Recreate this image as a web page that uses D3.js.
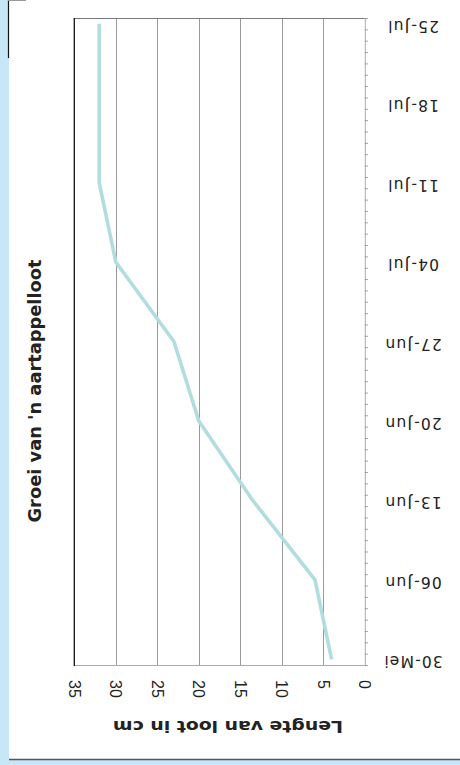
<!DOCTYPE html>
<html><head><meta charset="utf-8">
<script src="https://cdn.jsdelivr.net/npm/d3@7"></script>
<style>html,body{margin:0;padding:0;background:#c7e7f8;}svg{display:block;}</style>
</head><body>
<script>
const dateLabels = ["30-Mei","06-Jun","13-Jun","20-Jun","27-Jun","04-Jul","11-Jul","18-Jul","25-Jul"];
const dayIndex = [0,7,14,21,28,35,42,49,56];
const lengths = [4,6,13.5,20,23,30,32,32,32];
const valueTicks = [0,5,10,15,20,25,30,35];
const title = "Groei van 'n aartappelloot";
const valueTitle = "Lengte van loot in cm";

(function(){
const W=460,H=765;
const svg=d3.select("body").append("svg").attr("width",W).attr("height",H);
svg.append("rect").attr("width",W).attr("height",H).attr("fill","#c7e7f8");
svg.append("rect").attr("x",9).attr("y",0).attr("width",W-9).attr("height",759).attr("fill","#fff");
svg.append("line").attr("x1",9).attr("x2",W).attr("y1",759.5).attr("y2",759.5).attr("stroke","#555").attr("stroke-width",1.5);
svg.append("line").attr("x1",8.5).attr("x2",8.5).attr("y1",0).attr("y2",58).attr("stroke","#111").attr("stroke-width",1.2);
svg.append("line").attr("x1",8).attr("x2",26).attr("y1",0.5).attr("y2",0.5).attr("stroke","#999").attr("stroke-width",1);

const pL=74.3,pR=364.8,pT=18,pB=665;
const v=d3.scaleLinear().domain([0,35]).range([pR,pL]);
const nDays=57;
const day=d3.scaleLinear().domain([-0.5,nDays-0.5]).range([pB,pT]);

svg.append("g").selectAll("line").data(valueTicks.filter(t=>t>0&&t<35)).join("line")
  .attr("x1",d=>Math.round(v(d))+0.5).attr("x2",d=>Math.round(v(d))+0.5)
  .attr("y1",pT).attr("y2",pB).attr("stroke","#999").attr("stroke-width",1);

const dayAxis=d3.axisRight(day).tickValues(d3.range(-0.5,nDays,1)).tickFormat("").tickSize(3).tickSizeOuter(0);
const ga=svg.append("g").attr("transform",`translate(${pR},0)`).call(dayAxis);
ga.select(".domain").attr("stroke","#aaa");
ga.selectAll(".tick line").attr("stroke","#999");

svg.append("line").attr("x1",pL).attr("x2",pR).attr("y1",pB+0.5).attr("y2",pB+0.5).attr("stroke","#aaa");
svg.append("line").attr("x1",pL).attr("x2",pR).attr("y1",pT+0.5).attr("y2",pT+0.5).attr("stroke","#777");
svg.append("line").attr("x1",pL).attr("x2",pL).attr("y1",pT).attr("y2",pB+1).attr("stroke","#111").attr("stroke-width",1.3);

const line=d3.line().x(d=>v(d[1])).y(d=>day(d[0]));
svg.append("path").datum(dayIndex.map((d,i)=>[d,lengths[i]]))
  .attr("d",line).attr("fill","none").attr("stroke","#b2dde0").attr("stroke-width",3.6)
  .attr("stroke-linejoin","miter");

svg.append("g").selectAll("text").data(dateLabels).join("text")
  .attr("transform",(d,i)=>`translate(413,${day(dayIndex[i])-3}) rotate(180)`)
  .attr("text-anchor","middle").attr("font-family","DejaVu Sans").attr("font-size",15.5)
  .attr("letter-spacing","1.2px").attr("fill","#222").text(d=>d);

svg.append("g").selectAll("text").data(valueTicks).join("text")
  .attr("transform",d=>`translate(${v(d)-5.5},680) rotate(90)`)
  .attr("text-anchor","start").attr("font-family","Liberation Sans, Arial").attr("font-size",16)
  .attr("fill","#222").text(d=>d);

svg.append("text").attr("transform","translate(228,721) rotate(180)")
  .attr("text-anchor","middle").attr("font-family","DejaVu Sans").attr("font-weight","bold")
  .attr("font-size",16).attr("textLength",230).attr("lengthAdjust","spacingAndGlyphs")
  .attr("fill","#222").text(valueTitle);

svg.append("text").attr("transform","translate(41,391) rotate(-90)")
  .attr("text-anchor","middle").attr("font-family","DejaVu Sans").attr("font-weight","bold")
  .attr("font-size",17).attr("textLength",263).attr("lengthAdjust","spacingAndGlyphs")
  .attr("fill","#222").text(title);
})();
</script>
</body></html>
